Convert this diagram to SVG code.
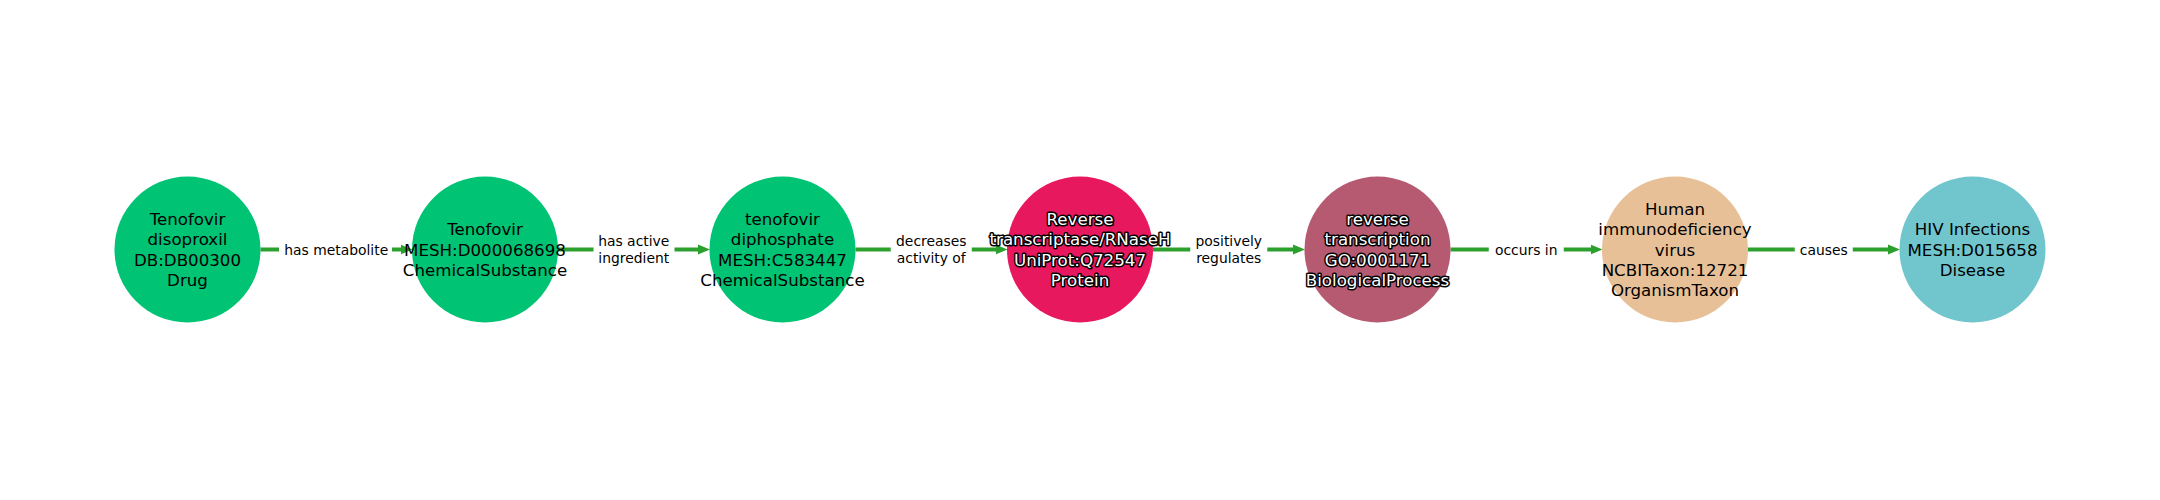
<svg xmlns="http://www.w3.org/2000/svg" width="2160" height="500" viewBox="0 0 2160 500">
<defs>
<style>
.bg{fill:#ffffff}
.edge{stroke:#2ca02c;stroke-width:4.2;fill:none}
.lblbox{fill:#ffffff;stroke:none}
.elbl{font-family:"DejaVu Sans","Liberation Sans",sans-serif;font-size:13.89px;fill:#000000;text-anchor:middle}
.nlbl{font-family:"DejaVu Sans","Liberation Sans",sans-serif;font-size:16.67px;fill:#000000;text-anchor:middle}
.nlbl.out{fill:#ffffff;stroke:#000000;stroke-width:3;paint-order:stroke;stroke-linejoin:round}
.chem{fill:#00c374}
.protein{fill:#e8185f}
.bp{fill:#b65a71}
.org{fill:#e8c098}
.dis{fill:#70c6cc}
</style>
<marker id="arr" markerUnits="userSpaceOnUse" markerWidth="14" markerHeight="12" refX="5" refY="6" orient="auto">
<path d="M0,1 L12,6 L0,11 Z" fill="#2ca02c"/>
</marker>
</defs>
<rect class="bg" x="0" y="0" width="2160" height="500"/>
<g id="connectors">
<line class="edge" x1="260.5" y1="249.5" x2="405.5" y2="249.5" marker-end="url(#arr)"/>
<line class="edge" x1="558" y1="249.5" x2="703" y2="249.5" marker-end="url(#arr)"/>
<line class="edge" x1="855.5" y1="249.5" x2="1000.5" y2="249.5" marker-end="url(#arr)"/>
<line class="edge" x1="1153" y1="249.5" x2="1298" y2="249.5" marker-end="url(#arr)"/>
<line class="edge" x1="1450.5" y1="249.5" x2="1595.5" y2="249.5" marker-end="url(#arr)"/>
<line class="edge" x1="1748" y1="249.5" x2="1893" y2="249.5" marker-end="url(#arr)"/>
<g id="edge-labels">
<rect class="lblbox" x="279" y="238" width="113" height="23"/>
<text class="elbl" x="336.25" y="254.5">has metabolite</text>
<rect class="lblbox" x="593.5" y="229" width="81" height="41"/>
<text class="elbl"><tspan x="633.75" y="246.2">has active</tspan><tspan x="633.75" y="262.8">ingredient</tspan></text>
<rect class="lblbox" x="890.75" y="229" width="81" height="41"/>
<text class="elbl"><tspan x="931.25" y="246.2">decreases</tspan><tspan x="931.25" y="262.8">activity of</tspan></text>
<rect class="lblbox" x="1190.25" y="229" width="77" height="41"/>
<text class="elbl"><tspan x="1228.75" y="246.2">positively</tspan><tspan x="1228.75" y="262.8">regulates</tspan></text>
<rect class="lblbox" x="1488.75" y="238" width="75" height="23"/>
<text class="elbl" x="1526.25" y="254.5">occurs in</text>
<rect class="lblbox" x="1794.75" y="238" width="58" height="23"/>
<text class="elbl" x="1823.75" y="254.5">causes</text>
</g>
</g>
<g id="node-tenofovir-disoproxil">
<circle class="chem" cx="187.5" cy="249.5" r="73"/>
<text class="nlbl"><tspan x="187.5" y="224.9">Tenofovir</tspan><tspan x="187.5" y="245.3">disoproxil</tspan><tspan x="187.5" y="265.7">DB:DB00300</tspan><tspan x="187.5" y="286.1">Drug</tspan></text>
</g>
<g id="node-tenofovir">
<circle class="chem" cx="485" cy="249.5" r="73"/>
<text class="nlbl"><tspan x="485" y="235.1">Tenofovir</tspan><tspan x="485" y="255.5">MESH:D000068698</tspan><tspan x="485" y="275.9">ChemicalSubstance</tspan></text>
</g>
<g id="node-tenofovir-diphosphate">
<circle class="chem" cx="782.5" cy="249.5" r="73"/>
<text class="nlbl"><tspan x="782.5" y="224.9">tenofovir</tspan><tspan x="782.5" y="245.3">diphosphate</tspan><tspan x="782.5" y="265.7">MESH:C583447</tspan><tspan x="782.5" y="286.1">ChemicalSubstance</tspan></text>
</g>
<g id="node-reverse-transcriptase">
<circle class="protein" cx="1080" cy="249.5" r="73"/>
<text class="nlbl out"><tspan x="1080" y="224.9">Reverse</tspan><tspan x="1080" y="245.3">transcriptase/RNaseH</tspan><tspan x="1080" y="265.7">UniProt:Q72547</tspan><tspan x="1080" y="286.1">Protein</tspan></text>
</g>
<g id="node-reverse-transcription">
<circle class="bp" cx="1377.5" cy="249.5" r="73"/>
<text class="nlbl out"><tspan x="1377.5" y="224.9">reverse</tspan><tspan x="1377.5" y="245.3">transcription</tspan><tspan x="1377.5" y="265.7">GO:0001171</tspan><tspan x="1377.5" y="286.1">BiologicalProcess</tspan></text>
</g>
<g id="node-hiv">
<circle class="org" cx="1675" cy="249.5" r="73"/>
<text class="nlbl"><tspan x="1675" y="214.7">Human</tspan><tspan x="1675" y="235.1">immunodeficiency</tspan><tspan x="1675" y="255.5">virus</tspan><tspan x="1675" y="275.9">NCBITaxon:12721</tspan><tspan x="1675" y="296.3">OrganismTaxon</tspan></text>
</g>
<g id="node-hiv-infections">
<circle class="dis" cx="1972.5" cy="249.5" r="73"/>
<text class="nlbl"><tspan x="1972.5" y="235.1">HIV Infections</tspan><tspan x="1972.5" y="255.5">MESH:D015658</tspan><tspan x="1972.5" y="275.9">Disease</tspan></text>
</g>
</svg>
